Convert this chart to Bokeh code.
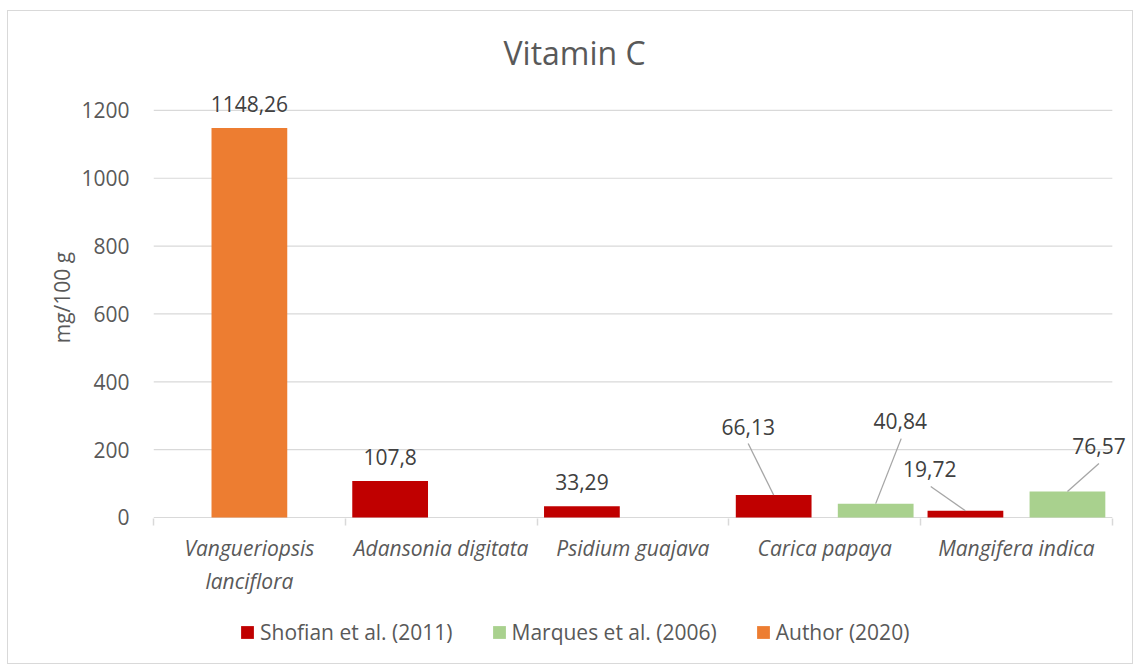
from bokeh.plotting import figure
from bokeh.layouts import column
from bokeh.models import ColumnDataSource, FixedTicker, Legend, LegendItem, Range1d
from bokeh.core.properties import value
from bokeh.embed import file_html
from bokeh.resources import INLINE

# ---- data ----
categories = ["Vangueriopsis\nlanciflora", "Adansonia digitata", "Psidium guajava",
              "Carica papaya", "Mangifera indica"]
series_names = ["Shofian et al. (2011)", "Marques et al. (2006)", "Author (2020)"]
shofian_cats = ["Adansonia digitata", "Psidium guajava", "Carica papaya", "Mangifera indica"]
shofian_vals = [107.8, 33.29, 66.13, 19.72]
marques_cats = ["Carica papaya", "Mangifera indica"]
marques_vals = [40.84, 76.57]
author_cats = ["Vangueriopsis\nlanciflora"]
author_vals = [1148.26]
y_ticks = [0, 200, 400, 600, 800, 1000, 1200]

# ---- styles ----
FONT = "Open Sans"
TXT = "#595959"
LBL = "#404040"
GRID = "#d9d9d9"
colors = ["#C00000", "#A9D18E", "#ED7D31"]
dodge = [-0.266, 0.266, 0.0]
BAR_W = 0.395
N = len(categories)
X_END = N + 0.1
Y_START, Y_END = -3, 1300
W = 1124
HP, HL = 590, 62
ML, MR, MT, MB = 145, 1, 65, 83
X_PX = (W - ML - MR) / X_END
Y_UNIT_PER_PX = (Y_END - Y_START) / (HP - MT - MB)

# label offsets in px (dx, dy) relative to bar top; leader line start offsets (or None)
label_style = [
    dict(dx=[0, 0, -25.5, -35.7], dy=[-24, -24, -67.6, -42],
         lead=[None, None, (-25.5, -51.6), (-34.7, -24.3)]),
    dict(dx=[24.5, 31.5], dy=[-83, -46],
         lead=[(25.5, -65), (31.5, -28)]),
    dict(dx=[0], dy=[-24], lead=[None]),
]

p = figure(width=W, height=HP, x_range=Range1d(0, X_END), y_range=Range1d(Y_START, Y_END),
           output_backend="svg", toolbar_location=None,
           min_border_left=ML, min_border_right=MR, min_border_top=MT, min_border_bottom=MB)
p.outline_line_color = None
p.background_fill_color = "white"
p.border_fill_color = "white"

p.title.text = "Vitamin C"
p.title.text_font = FONT
p.title.text_font_size = "32px"
p.title.text_font_style = "normal"
p.title.text_color = TXT
p.title.align = "left"
p.title.offset = 350
p.title.standoff = 6

# horizontal gridlines (incl. baseline) limited to the category span
p.xgrid.visible = False
p.ygrid.visible = False
p.segment(x0=[0] * len(y_ticks), x1=[N] * len(y_ticks), y0=y_ticks, y1=y_ticks,
          line_color=GRID, line_width=1.2)

ya = p.yaxis[0]
ya.ticker = FixedTicker(ticks=y_ticks)
ya.axis_line_color = None
ya.major_tick_line_color = None
ya.minor_tick_line_color = None
ya.major_tick_out = 0
ya.major_label_standoff = 24
ya.major_label_text_font = FONT
ya.major_label_text_font_size = "21px"
ya.major_label_text_color = TXT
ya.axis_label = "mg/100 g"
ya.axis_label_text_font = FONT
ya.axis_label_text_font_size = "21px"
ya.axis_label_text_font_style = "normal"
ya.axis_label_text_color = TXT
ya.axis_label_standoff = 2

xa = p.xaxis[0]
centers = [i + 0.5 for i in range(N)]
xa.ticker = FixedTicker(ticks=centers, minor_ticks=list(range(N + 1)))
xa.major_label_overrides = {c: name for c, name in zip(centers, categories)}
xa.axis_line_color = None
xa.major_tick_line_color = None
xa.major_tick_out = 0
xa.major_tick_in = 0
xa.minor_tick_line_color = GRID
xa.minor_tick_line_width = 1.5
xa.minor_tick_out = 7
xa.minor_tick_in = 0
xa.major_label_standoff = 8
xa.major_label_text_font = FONT
xa.major_label_text_font_size = "21px"
xa.major_label_text_font_style = "italic"
xa.major_label_text_color = TXT

all_cats = [shofian_cats, marques_cats, author_cats]
all_vals = [shofian_vals, marques_vals, author_vals]
for s, (cats, vals) in enumerate(zip(all_cats, all_vals)):
    xs = [categories.index(c) + 0.5 + dodge[s] for c in cats]
    src = ColumnDataSource(dict(x=xs, top=vals))
    p.vbar(x="x", top="top", bottom=0, width=BAR_W, source=src,
           fill_color=colors[s], line_color=None)
    st = label_style[s]
    lsrc = ColumnDataSource(dict(x=xs, y=vals, t=[f"{v}".replace(".", ",") for v in vals],
                                 dx=st["dx"], dy=st["dy"]))
    p.text(x="x", y="y", text="t", x_offset="dx", y_offset="dy", source=lsrc,
           text_align="center", text_baseline="middle", text_font=value(FONT),
           text_font_size="21px", text_color=LBL)
    x0, y0, x1, y1 = [], [], [], []
    for x, v, ld in zip(xs, vals, st["lead"]):
        if ld is None:
            continue
        x0.append(x + ld[0] / X_PX)
        y0.append(v - ld[1] * Y_UNIT_PER_PX)
        x1.append(x)
        y1.append(v)
    if x0:
        p.segment(x0=x0, y0=y0, x1=x1, y1=y1, line_color="#a6a6a6", line_width=1.3)

# ---- legend strip (separate figure below the chart) ----
pl = figure(width=W, height=HL, x_range=Range1d(0, 1), y_range=Range1d(0, 1),
            output_backend="svg", toolbar_location=None, min_border=0,
            x_axis_type=None, y_axis_type=None)
pl.outline_line_color = None
pl.xgrid.visible = False
pl.ygrid.visible = False
items = []
for s in range(3):
    # legend swatch carrier, kept outside the visible range of the strip
    r = pl.vbar(x=[-1.0], top=[0.0], bottom=[-1.0], width=0.1,
                fill_color=colors[s], line_color=None)
    items.append(LegendItem(label=series_names[s], renderers=[r]))
legend = Legend(items=items, orientation="horizontal", location=(86, 17),
                glyph_width=16, glyph_height=16, label_standoff=5, spacing=38,
                padding=0, margin=0, border_line_color=None, background_fill_alpha=0,
                label_text_font=FONT, label_text_font_size="21px", label_text_color=TXT)
pl.add_layout(legend, "center")

root = column(p, pl, spacing=0,
              styles={"border": "1px solid #d9d9d9", "margin-left": "7px", "margin-top": "10px"})

open("out.html", "w").write(file_html(root, INLINE))
